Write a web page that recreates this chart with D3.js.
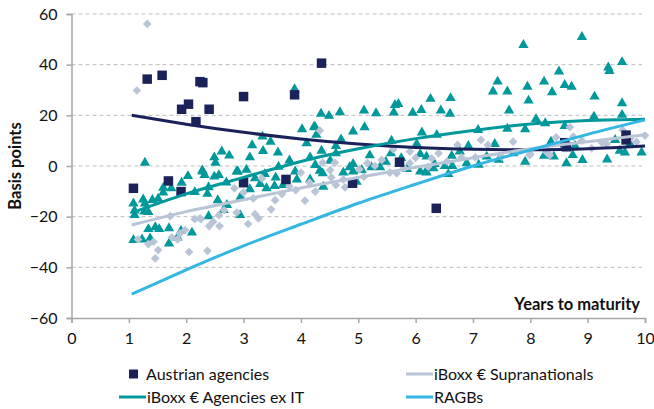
<!DOCTYPE html>
<html>
<head>
<meta charset="utf-8">
<script src="https://cdn.jsdelivr.net/npm/d3@7"></script>
<style>
  body { margin: 0; background: #fff; }
  text { font-family: Lato, "Open Sans", sans-serif; fill: #111; }
</style>
</head>
<body>
<div id="chart"></div>
<script>
"use strict"

// x ticks / y ticks
var xTicks = [0, 1, 2, 3, 4, 5, 6, 7, 8, 9, 10]
var yTicks = [-60, -40, -20, 0, 20, 40, 60]

// Austrian agencies (squares): [years, bp]
var austrian = [
  [1.08,-8.8],[1.32,34.3],[1.58,35.8],[1.69,-5.9],[1.91,-10.1],[1.92,22.4],[2.04,24.4],
  [2.17,17.5],[2.24,33.3],[2.29,32.9],[2.4,22.4],[3.0,27.4],[3.0,-6.6],[3.74,-5.3],
  [3.89,28.1],[4.36,40.6],[4.9,-6.8],[5.72,1.5],[6.36,-16.7],[8.6,9.2],[8.63,7.6],
  [9.67,12.2],[9.67,10.3]
]

// iBoxx € Agencies ex IT (triangles)
var agencies = [
  [1.28,1.3],[2.03,-4],[2.29,-2.2],[1.92,-6.6],[1.6,-8.6],[1.74,-8.8],[1.6,-10.5],[2.15,-10.3],
  [1.25,-13.2],[1.41,-13.4],[1.51,-12.9],[1.08,-14.8],[1.28,-14.8],[1.1,-17.6],[1.27,-18],
  [1.34,-18.2],[1.1,-19.4],[1.34,-24.9],[1.46,-24.2],[1.53,-24.9],[1.7,-24.6],[1.91,-25.6],
  [2.1,-26.3],[1.85,-28.2],[1.08,-29.2],[1.23,-29],[1.37,-28.6],[1.7,-30.6],
  [4.02,14.5],[4.23,15.5],[3.33,11.6],[3.47,9.6],[3.34,5.9],[3.6,5.3],[2.62,5.7],[2.75,4.1],
  [2.49,3.4],[2.51,1.3],[3.11,3.4],[4.1,9],[4.16,3.4],[2.28,-1.8],[2.32,-3.6],[2.49,-4.2],
  [2.57,-3.6],[2.9,-2.2],[3.37,-3.2],[3.56,-4.5],[3.9,-2.2],[3.93,-5.3],[4.16,-5.3],[2.39,-8.4],
  [2.37,-11],[3.11,-9.2],[3.29,-7.1],[3.4,-8.8],[3.54,-7.9],[3.69,-7.5],[2.71,-15.4],[2.65,-17.4],
  [2.94,-19.4],[2.39,-19.8],[2.95,-12.1],[4.97,-6.2],[3.89,30.3],[2.88,-2.2],[3.61,-0.3],
  [3.05,-1.5],[3.2,-4.8],[2.7,-6.5],[3.8,2.2],[3.15,8.2],[2.55,-13.5],
  [4.35,20.6],[4.49,19.8],[4.68,21.2],[5.1,21.9],[5.31,20.8],[5.64,24.1],[5.7,24.5],[5.62,21.1],
  [5.95,21],[4.25,15.3],[4.27,12.3],[4.91,13.6],[5.11,15.3],[6.11,13.2],[5.58,10],[6.02,8.7],
  [4.61,7.9],[4.36,6],[4.61,5],[5.57,5],[6.08,4.7],[4.51,2.1],[4.25,0.4],[5.48,1.7],[4.91,0.8],
  [4.85,-0.5],[4.33,-1.9],[4.38,-2.9],[4.74,-2.6],[5.06,-1.6],[5.23,-0.5],[5.38,-0.5],[4.91,-2.2],
  [6.08,-2.2],[6.18,-2.2],[4.39,-8.2],[5.2,4.2],[5.75,3.1],[5.85,-1.2],[4.7,10.5],
  [7.88,47.8],[7.43,33.3],[7.35,29.4],[7.6,29.4],[7.95,31.3],[7.97,25.8],[6.26,26.5],[6.61,26.8],
  [6.44,21.9],[6.6,20.6],[7.63,21.9],[7.91,14.5],[7.6,14.7],[7.09,14.2],[6.37,12.3],[6.92,7.9],
  [7.38,8.7],[6.77,5.7],[6.63,4],[7.24,3.7],[6.19,3.7],[6.33,0.8],[6.89,1.1],[6.51,0],[6.64,0],
  [6.19,-2.6],[6.57,-3.2],[7.91,1.7],[7.7,5],[6.1,22.1],[6.31,-0.9],[7.1,0.5],[7.45,2.5],
  [8.9,50.9],[9.36,38.9],[9.38,37.5],[9.6,41],[8.5,37.3],[8.24,33.3],[8.6,32],[8.72,31.3],
  [8.38,29.1],[9.12,27.4],[9.6,24.8],[9.6,20.2],[9.11,19.5],[8.1,18.5],[8.26,16.9],[8.6,15.8],
  [9.48,10.3],[8.78,7.9],[8.36,9.6],[9.56,6],[9.65,5.3],[9.74,8.7],[9.94,5.3],[8.24,4],[8.41,3.7],
  [8.74,4.3],[8.91,2.4],[8.63,1.1],[9.34,2.6]
]

// iBoxx € Supranationals (diamonds)
var supras = [
  [1.14,29.8],[1.32,56.1],[1.72,-19.8],[2.15,-21],[2.26,-21],[1.16,-29],[1.34,-30.8],[1.43,-29.9],
  [1.51,-33.2],[1.46,-36.5],[1.75,-28.2],[1.85,-29],[1.98,-25.3],[2.05,-33.9],[1.89,-26.6],
  [4.0,-2.6],[2.84,-8.8],[3.32,-4.9],[3.0,-10.5],[3.67,-11.1],[3.91,-9.5],[3.48,-17.1],[4.07,-13.7],
  [3.2,-19],[2.66,-17.4],[2.57,-19.4],[3.17,-12.8],[2.4,-23.7],[2.58,-23.7],[2.47,-22],[2.37,-33.5],
  [3.26,-20.7],[3.08,-22.9],[2.88,-18.4],[4.25,-10.1],[4.77,-8.4],[4.61,-7.5],[2.24,-20.7],
  [3.55,-13.5],[3.8,-8],[4.15,-6.5],
  [4.33,14],[5.61,6.6],[5.9,5.7],[5.16,1.1],[5.41,2.4],[5.55,-2.6],[5.67,-2.9],[5.9,1.1],
  [4.51,-1.6],[4.59,1.3],[4.38,1.3],[4.53,-4.5],[4.74,-5.3],[5.02,-1.3],[5.29,0],[5.1,-4.2],
  [6.0,3.2],[5.8,-0.8],
  [7.14,10.3],[7.26,8.3],[7.7,9.6],[6.73,8.3],[6.4,5],[6.28,3],[7.04,3.4],[7.5,3.7],[7.99,4.3],
  [6.8,3.4],[6.22,-0.3],[8.0,4.7],[6.55,1.8],
  [8.69,15.3],[8.45,11.3],[8.75,11.6],[9.25,9.2],[9.61,14.2],[10.0,12],[9.74,10.9],[9.07,7],
  [9.33,8.7],[8.29,5.3],[8.9,10],[8.34,4.3],[9.85,9.5]
]

// trend lines
var austrianTrend = [[1.05,20],[2,16.5],[3,13.3],[4,10.7],[5,8.7],[6,7.3],[7,6.6],[8,6.4],[9,6.8],[10,7.9]]
var agenciesTrend = [[1.05,-18.5],[2,-11],[3,-4.5],[4,1.8],[5,6.8],[6,10.8],[7,14],[8,16.6],[9,18],[10,18.5]]
var suprasTrend = [[1.05,-23.3],[2,-18],[3,-13.3],[4,-8.7],[5,-4.5],[6,-0.5],[7,3.2],[8,6.8],[9,9.6],[10,12.3]]
var ragbTrend = [[1.05,-50.6],[2,-41],[3,-31.5],[4,-23],[5,-14.7],[6,-7.2],[7,0],[8,6.3],[9,12.5],[10,18.2]]

var navy = "#1b2259", teal = "#00989a", grey = "#b9c4d6", blue = "#33b7e2"

main()

function main() {
  var width = 654, height = 409
  var svg = d3.select("#chart").append("svg").attr("width", width).attr("height", height)

  var x = d3.scaleLinear().domain([0, 10]).range([71.5, 645])
  var y = d3.scaleLinear().domain([-60, 60]).range([318, 14])

  // gridlines
  svg.append("g").selectAll("line")
    .data(yTicks.filter(function(d) { return d > -60 }))
    .enter().append("line")
    .attr("x1", x(0)).attr("x2", 642)
    .attr("y1", function(d) { return y(d) }).attr("y2", function(d) { return y(d) })
    .attr("stroke", "#bdbdbd").attr("stroke-dasharray", "4,3").attr("stroke-width", 1)

  // y axis
  var yAxis = svg.append("g").attr("transform", "translate(" + x(0) + ",0)")
    .call(d3.axisLeft(y).tickValues(yTicks).tickSize(5).tickPadding(9))
  yAxis.select(".domain").attr("stroke", "#a6a6a6").attr("stroke-width", 1.5)
  yAxis.selectAll(".tick line").attr("stroke", "#a6a6a6").attr("stroke-width", 1.5)
  yAxis.selectAll("text").style("font-size", "16px").attr("fill", "#111")

  // x axis
  var xAxis = svg.append("g").attr("transform", "translate(0," + y(-60) + ")")
    .call(d3.axisBottom(x).tickValues(xTicks).tickSize(5).tickPadding(10))
  xAxis.select(".domain").attr("stroke", "#a6a6a6").attr("stroke-width", 1.5)
  xAxis.selectAll(".tick line").attr("stroke", "#a6a6a6").attr("stroke-width", 1.5)
  xAxis.selectAll("text").style("font-size", "16px").attr("fill", "#111")

  svg.append("text")
    .attr("transform", "translate(21," + y(0) + ") rotate(-90)")
    .attr("text-anchor", "middle")
    .style("font-size", "16.5px").style("font-weight", "bold")
    .text("Basis points")

  svg.append("text")
    .attr("x", 640).attr("y", 310)
    .attr("text-anchor", "end")
    .style("font-size", "16.5px").style("font-weight", "bold")
    .text("Years to maturity")

  var tri = d3.symbol().type(d3.symbolTriangle).size(46)
  var sq = d3.symbol().type(d3.symbolSquare).size(38)
  var box = d3.symbol().type(d3.symbolSquare).size(90)

  svg.append("g").selectAll("path")
    .data(agencies).enter().append("path")
    .attr("d", tri)
    .attr("transform", function(d) { return "translate(" + x(d[0]) + "," + y(d[1]) + ")" })
    .attr("fill", teal)

  svg.append("g").selectAll("path")
    .data(supras).enter().append("path")
    .attr("d", sq)
    .attr("transform", function(d) { return "translate(" + x(d[0]) + "," + y(d[1]) + ") rotate(45)" })
    .attr("fill", grey)

  svg.append("g").selectAll("path")
    .data(austrian).enter().append("path")
    .attr("d", box)
    .attr("transform", function(d) { return "translate(" + x(d[0]) + "," + y(d[1]) + ")" })
    .attr("fill", navy)

  var line = d3.line()
    .x(function(d) { return x(d[0]) })
    .y(function(d) { return y(d[1]) })
    .curve(d3.curveNatural)

  var trends = [
    {data: austrianTrend, color: navy},
    {data: suprasTrend, color: grey},
    {data: agenciesTrend, color: teal},
    {data: ragbTrend, color: blue}
  ]
  svg.append("g").selectAll("path")
    .data(trends).enter().append("path")
    .attr("d", function(d) { return line(d.data) })
    .attr("fill", "none")
    .attr("stroke", function(d) { return d.color })
    .attr("stroke-width", 3)

  // legend
  var legend = [
    {label: "Austrian agencies", color: navy, type: "square", lx: 133, ly: 374},
    {label: "iBoxx € Supranationals", color: grey, type: "line", lx: 406, ly: 374},
    {label: "iBoxx € Agencies ex IT", color: teal, type: "line", lx: 119, ly: 397},
    {label: "RAGBs", color: blue, type: "line", lx: 406, ly: 397}
  ]
  var lg = svg.append("g").selectAll("g")
    .data(legend).enter().append("g")
    .attr("transform", function(d) { return "translate(" + d.lx + "," + d.ly + ")" })

  lg.each(function(d) {
    var g = d3.select(this)
    if (d.type == "square") {
      g.append("rect").attr("x", -4).attr("y", -4.5).attr("width", 9).attr("height", 9).attr("fill", d.color)
      g.append("text").attr("x", 13).attr("dy", "0.35em").style("font-size", "16px").text(d.label)
    } else {
      g.append("line").attr("x1", 0).attr("x2", 27).attr("stroke", d.color).attr("stroke-width", 3)
      g.append("text").attr("x", 28).attr("dy", "0.35em").style("font-size", "16px").text(d.label)
    }
  })
}
</script>
</body>
</html>
